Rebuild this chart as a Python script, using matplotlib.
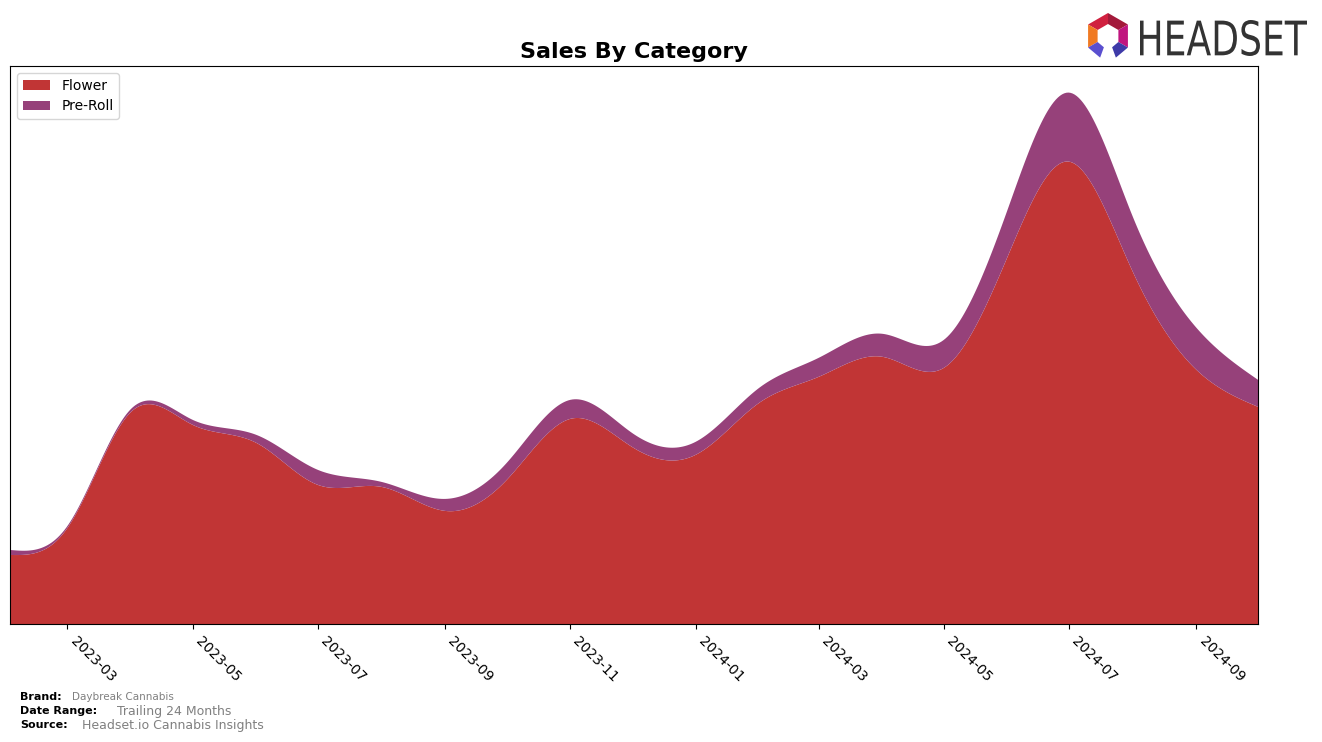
import numpy as np
import pandas as pd
import matplotlib
matplotlib.use("Agg")
import matplotlib.pyplot as plt
import matplotlib.dates as mdates
from matplotlib.textpath import TextPath
from matplotlib.patches import PathPatch, Polygon
from matplotlib.transforms import Affine2D, IdentityTransform
from matplotlib.font_manager import FontProperties

months = pd.date_range("2023-02-01", "2024-10-01", freq="MS")

flower = [69, 96, 212, 199, 181, 139, 137, 113, 144, 205, 177,
          169, 221, 247, 267, 256, 367, 462, 352, 254, 217]
preroll = [5, 2, 3, 5, 8, 15, 5, 12, 17, 19, 14,
           13, 15, 19, 23, 28, 47, 69, 55, 42, 27]

categories = ["Flower", "Pre-Roll"]
colors = ["#c13535", "#96417a"]


def spline(x, y, n=600):
    # natural cubic spline
    x = np.asarray(x, float)
    y = np.asarray(y, float)
    k = len(x)
    h = np.diff(x)
    A = np.zeros((k, k))
    b = np.zeros(k)
    A[0, 0] = 1
    A[-1, -1] = 1
    for i in range(1, k - 1):
        A[i, i - 1] = h[i - 1]
        A[i, i] = 2 * (h[i - 1] + h[i])
        A[i, i + 1] = h[i]
        b[i] = 6 * ((y[i + 1] - y[i]) / h[i] - (y[i] - y[i - 1]) / h[i - 1])
    M = np.linalg.solve(A, b)
    xs = np.linspace(x[0], x[-1], n)
    idx = np.clip(np.searchsorted(x, xs) - 1, 0, k - 2)
    x0, x1 = x[idx], x[idx + 1]
    hh = x1 - x0
    ys = (M[idx] * (x1 - xs) ** 3 / (6 * hh) + M[idx + 1] * (xs - x0) ** 3 / (6 * hh)
          + (y[idx] / hh - M[idx] * hh / 6) * (x1 - xs)
          + (y[idx + 1] / hh - M[idx + 1] * hh / 6) * (xs - x0))
    return xs, ys


xnum = mdates.date2num(months)
xs, fs = spline(xnum, flower)
_, ps = spline(xnum, preroll)
fs = np.clip(fs, 0, None)
ps = np.clip(ps, 0, None)

fig = plt.figure(figsize=(13.22, 7.42), dpi=100)
ax = fig.add_axes([10 / 1322, 118 / 742, 1248 / 1322, 558 / 742])

ax.stackplot(xs, fs, ps, labels=categories, colors=colors)
ax.set_xlim(xnum[0], xnum[-1])
ax.set_ylim(0, (fs + ps).max() * 1.05)
ax.set_yticks([])
ax.xaxis_date()
ax.xaxis.set_major_locator(mdates.MonthLocator(bymonth=[1, 3, 5, 7, 9, 11]))
ax.xaxis.set_major_formatter(mdates.DateFormatter("%Y-%m"))
plt.setp(ax.get_xticklabels(), rotation=-45, ha="left", rotation_mode="default", fontsize=10)

ax.set_title("Sales By Category", fontsize=16, fontweight="bold", pad=6)
ax.legend(loc="upper left", fontsize=10)

# footer
fig.text(20 / 1322, 1 - 697 / 742, "Brand:", fontsize=8, fontweight="bold", va="center")
fig.text(72 / 1322, 1 - 697 / 742, "Daybreak Cannabis", fontsize=7.5, color="gray", va="center")
fig.text(20 / 1322, 1 - 711 / 742, "Date Range:", fontsize=8, fontweight="bold", va="center")
fig.text(117 / 1322, 1 - 711 / 742, "Trailing 24 Months", fontsize=9, color="gray", va="center")
fig.text(20 / 1322, 1 - 725 / 742, "Source:", fontsize=8, fontweight="bold", va="center")
fig.text(82 / 1322, 1 - 725 / 742, "Headset.io Cannabis Insights", fontsize=9, color="gray", va="center")

# logo text, squeezed to fit its box (pixel coords, origin bottom-left)
tp = TextPath((0, 0), "HEADSET", size=100, prop=FontProperties(family="DejaVu Sans"))
ext = tp.get_extents()
x0, x1, top, bot = 1140, 1307, 742 - 20, 742 - 56
tr = (Affine2D().translate(-ext.x0, -ext.y0)
      .scale((x1 - x0) / ext.width, (top - bot) / ext.height)
      .translate(x0, bot))
fig.patches.append(PathPatch(tr.transform_path(tp), facecolor="#333333", edgecolor="none",
                             transform=IdentityTransform(), figure=fig))

# logo icon: open hexagon ring
cx, cy = 1108, 742 - 36
ro, ri = 23, 12
segs = [(90, 150, "#d0203f"), (30, 90, "#a3193a"), (-30, 30, "#c0157f"),
        (150, 210, "#f07a22"), (210, 250, "#5a4fcf"), (-70, -30, "#3e3aa8")]
for a0, a1, c in segs:
    angs = np.radians([a0, a1])
    pts = [(cx + ro * np.cos(a), cy + ro * np.sin(a)) for a in angs]
    pts += [(cx + ri * np.cos(a), cy + ri * np.sin(a)) for a in angs[::-1]]
    fig.patches.append(Polygon(pts, closed=True, facecolor=c, edgecolor="none",
                               transform=IdentityTransform(), figure=fig))

fig.savefig("out.png", dpi=100)
